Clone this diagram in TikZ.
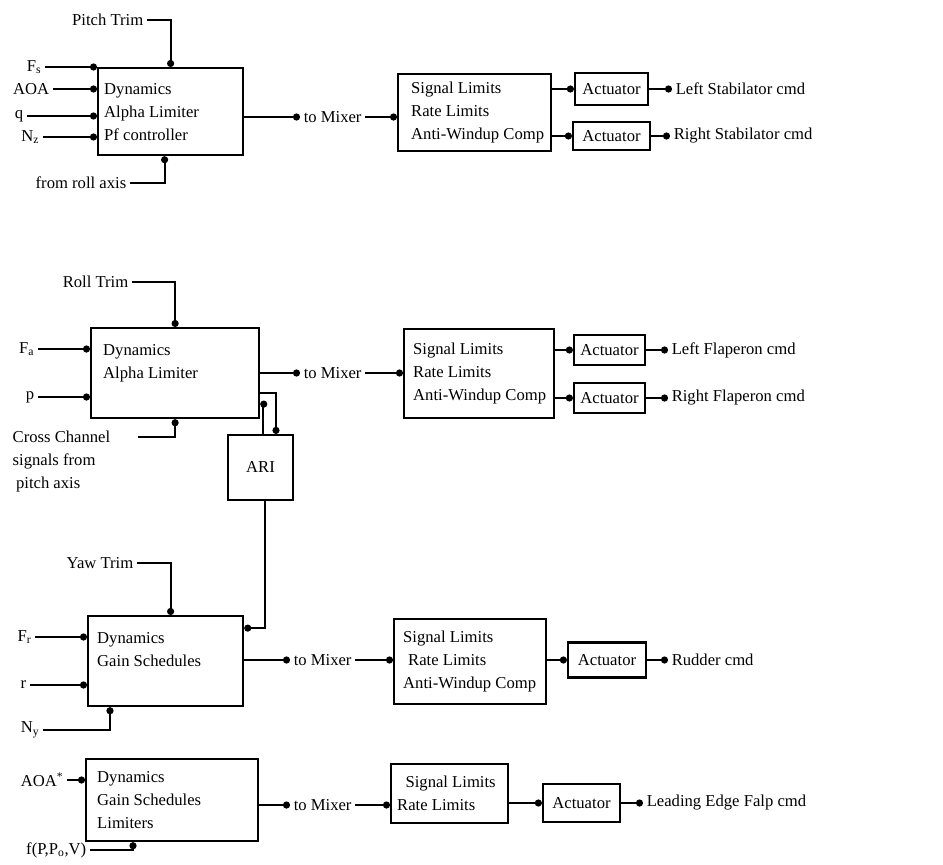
\documentclass[tikz,border=0pt]{standalone}
\usepackage{fontspec}
\setmainfont{Liberation Serif}
\usetikzlibrary{arrows.meta,calc}
\def\pxu{0.03cm}
\tikzset{
    blk/.style={draw, line width=1.9pt, inner sep=0pt},
    inbox/.style={inner sep=0pt, align=left},
    lbl/.style={inner sep=3pt},
    sig/.style={line width=1.9pt, -{Circle[length=6pt]}},
}
% block with left aligned text: [indent] name, left, top, width, height, text
\newcommand{\blk}[7][10]{
    \node[blk, anchor=north west, minimum width=#5*\pxu, minimum height=#6*\pxu] (#2) at (#3,#4) {};
    \node[inbox, anchor=west] (#2-t) at ($(#2.west)+(#1,0)$) {#7};
}
% actuator: name, centre x, centre y, width, height
\newcommand{\actu}[5]{
    \node[blk, minimum width=#4*\pxu, minimum height=#5*\pxu] (#1) at (#2,#3) {Actuator};
}
\begin{document}
\begin{tikzpicture}[x=0.03cm, y=-0.03cm, font=\fontsize{14.2}{19.6}\selectfont]
    \useasboundingbox (0,0) rectangle (943,865);
    % pitch axis
    \blk[7]{pbox}{97}{67}{145}{87}{Dynamics\\Alpha Limiter\\Pf controller}
    \blk[14]{psl}{397}{73}{153}{77}{Signal Limits\\Rate Limits\\Anti-Windup Comp}
    \actu{pact1}{611.5}{89}{73}{32}
    \actu{pact2}{611.5}{136}{77}{28}
    \node[lbl, anchor=east] (ptrim) at (147,20) {Pitch Trim};
    \node[lbl, anchor=east] (fs) at (45,67) {F\textsubscript{s}};
    \node[lbl, anchor=east] (aoa) at (53,89) {AOA};
    \node[lbl, anchor=east] (q) at (27,116) {q};
    \node[lbl, anchor=east] (nz) at (43,137) {N\textsubscript{z}};
    \node[lbl, anchor=east] (roll) at (130,183) {from roll axis};
    \node[lbl, anchor=west] (pmix) at (300,117) {to Mixer};
    \node[lbl, anchor=west] (lstab) at (672,89) {Left Stabilator cmd};
    \node[lbl, anchor=west] (rstab) at (670,136) {Right Stabilator cmd};
    \draw[sig] (ptrim.east) -| (pbox.north);
    \draw[sig] (fs.east) -- (pbox.north west);
    \draw[sig] (aoa.east) -- (aoa.east -| pbox.west);
    \draw[sig] (q.east) -- (q.east -| pbox.west);
    \draw[sig] (nz.east) -- (nz.east -| pbox.west);
    \draw[sig] (roll.east) -| ($(pbox.south)+(-6,0)$);
    \draw[sig] (pmix.west -| pbox.east) -- (pmix.west);
    \draw[sig] (pmix.east) -- (pmix.east -| psl.west);
    \draw[sig] (pact1.west -| psl.east) -- (pact1.west);
    \draw[sig] (pact2.west -| psl.east) -- (pact2.west);
    \draw[sig] (pact1.east) -- (lstab.west);
    \draw[sig] (pact2.east) -- (rstab.west);
    % roll axis
    \blk[13]{rbox}{90}{327}{168}{90}{Dynamics\\Alpha Limiter\\\mbox{}}
    \blk[10]{rsl}{403}{328}{150}{89}{Signal Limits\\Rate Limits\\Anti-Windup Comp}
    \actu{ract1}{609.5}{350}{71}{30}
    \actu{ract2}{609.5}{398}{71}{30}
    \node[blk, minimum width=65*\pxu, minimum height=65*\pxu] (ari) at (260.5,467.5) {ARI};
    \node[lbl, anchor=east] (rtrim) at (132,282) {Roll Trim};
    \node[lbl, anchor=east] (fa) at (38,349) {F\textsubscript{a}};
    \node[lbl, anchor=east] (p) at (38,397) {p};
    \node[lbl, anchor=north west, align=left] (cross) at (9,427) {Cross Channel\\signals from\\\hspace*{0.1cm}pitch axis};
    \coordinate (crossin) at (138,437);
    \node[lbl, anchor=west] (rmix) at (300,373) {to Mixer};
    \node[lbl, anchor=west] (lflap) at (668,350) {Left Flaperon cmd};
    \node[lbl, anchor=west] (rflap) at (668,398) {Right Flaperon cmd};
    \draw[sig] (rtrim.east) -| (rbox.north);
    \draw[sig] (fa.east) -- (fa.east -| rbox.west);
    \draw[sig] (p.east) -- (p.east -| rbox.west);
    \draw[sig] (crossin) -| (rbox.south);
    \draw[sig] (rmix.west -| rbox.east) -- (rmix.west);
    \draw[sig] (rmix.east) -- (rmix.east -| rsl.west);
    \draw[sig] (ract1.west -| rsl.east) -- (ract1.west);
    \draw[sig] (ract2.west -| rsl.east) -- (ract2.west);
    \draw[sig] (ract1.east) -- (lflap.west);
    \draw[sig] (ract2.east) -- (rflap.west);
    \draw[sig] ($(rbox.east)+(0,20)$) -| ($(ari.north)+(15.5,0)$);
    \draw[sig] ($(ari.north)+(2.5,0)$) |- ($(rbox.east)+(0,31)$);
    % yaw axis
    \blk[10]{ybox}{87}{615}{155}{90}{Dynamics\\Gain Schedules\\\mbox{}}
    \blk[10]{ysl}{393}{618}{152}{85}{Signal Limits\\\hspace*{0.15cm}Rate Limits\\Anti-Windup Comp}
    \actu{yact}{607}{660}{78}{35}
    \node[lbl, anchor=east] (ytrim) at (137,563) {Yaw Trim};
    \node[lbl, anchor=east] (fr) at (35,637) {F\textsubscript{r}};
    \node[lbl, anchor=east] (r) at (30,685) {r};
    \node[lbl, anchor=east] (ny) at (43,730) {N\textsubscript{y}};
    \node[lbl, anchor=west] (ymix) at (290,660) {to Mixer};
    \node[lbl, anchor=west] (rudder) at (668,660) {Rudder cmd};
    \draw[sig] (ytrim.east) -| ($(ybox.north)+(5,0)$);
    \draw[sig] (fr.east) -- (fr.east -| ybox.west);
    \draw[sig] (r.east) -- (r.east -| ybox.west);
    \draw[sig] (ny.east) -| ($(ybox.south west)+(23,0)$);
    \draw[sig] ($(ari.south)+(4.5,0)$) |- ($(ybox.east)+(0,-33)$);
    \draw[sig] (ymix.west -| ybox.east) -- (ymix.west);
    \draw[sig] (ymix.east) -- (ymix.east -| ysl.west);
    \draw[sig] (yact.west -| ysl.east) -- (yact.west);
    \draw[sig] (yact.east) -- (rudder.west);
    % leading edge flap
    \blk[12]{lbox}{85}{758}{172}{82}{Dynamics\\Gain Schedules\\Limiters}
    \blk[7]{lsl}{390}{763}{117}{59}{\hspace*{0.25cm}Signal Limits\\Rate Limits}
    \actu{lact}{581.5}{803}{77}{38}
    \node[lbl, anchor=east] (aoas) at (67,780) {AOA\textsuperscript{*}};
    \node[lbl, anchor=east] (fppv) at (90,850) {f(P,P\textsubscript{o},V)};
    \node[lbl, anchor=west] (lmix) at (290,805) {to Mixer};
    \node[lbl, anchor=west] (ledge) at (643,803) {Leading Edge Falp cmd};
    \draw[sig] (aoas.east) -- (aoas.east -| lbox.west);
    \draw[sig] (fppv.east) -| ($(lbox.south west)+(48,0)$);
    \draw[sig] (lmix.west -| lbox.east) -- (lmix.west);
    \draw[sig] (lmix.east) -- (lmix.east -| lsl.west);
    \draw[sig] (lact.west -| lsl.east) -- (lact.west);
    \draw[sig] (lact.east) -- (ledge.west);
\end{tikzpicture}
\end{document}
